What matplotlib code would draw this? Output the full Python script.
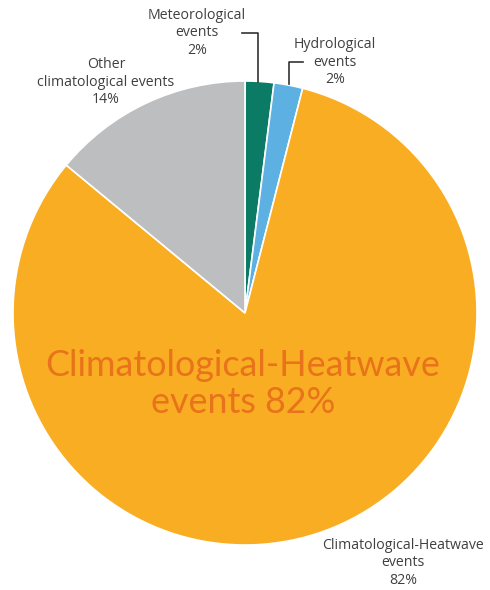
import matplotlib.pyplot as plt
import matplotlib.transforms as mtransforms

plt.rcParams['font.family'] = ['Open Sans', 'DejaVu Sans']

# Share of events by type
labels = ['Meteorological\nevents', 'Hydrological\nevents',
          'Climatological-Heatwave\nevents', 'Other\nclimatological events']
shares = [2, 2, 82, 14]
colors = ['#0b7b66', '#5db0e2', '#f9ad22', '#bdbec0']

W, H = 490, 590
fig = plt.figure(figsize=(W / 100, H / 100), dpi=100)
ax = fig.add_axes([0, 0, 1, 1])
ax.set_aspect('equal')
ax.axis('off')

cx, cy, r = 245, 313, 232
wedges, _ = ax.pie(shares, colors=colors, startangle=90, counterclock=False,
                   center=(cx, -cy), radius=r,
                   wedgeprops=dict(edgecolor='white', linewidth=1.2))
# pie draws in y-up space; flip the wedges into image coordinates
flip = mtransforms.Affine2D().scale(1, -1) + ax.transData
for w in wedges:
    w.set_transform(flip)
ax.set_xlim(0, W)
ax.set_ylim(H, 0)

txt = '#404040'
fs = 10.2
ax.text(197, 33, f'{labels[0]}\n{shares[0]}%', ha='center', va='center',
        fontsize=fs, color=txt, linespacing=1.2)
ax.text(335, 62, f'{labels[1]}\n{shares[1]}%', ha='center', va='center',
        fontsize=fs, color=txt, linespacing=1.2)
ax.text(106, 82, f'{labels[3]}\n{shares[3]}%', ha='center', va='center',
        fontsize=fs, color=txt, linespacing=1.2)
ax.text(403, 563, f'{labels[2]}\n{shares[2]}%', ha='center', va='center',
        fontsize=fs, color=txt, linespacing=1.2)

# leader lines
ax.plot([242, 258, 258], [33, 33, 82], color='#333333', lw=1.2)
ax.plot([303, 289, 289], [62, 62, 84], color='#333333', lw=1.2)

ax.text(243, 384, 'Climatological-Heatwave\nevents 82%', ha='center',
        va='center', fontsize=25.8, color='#e8731a', linespacing=1.12,
        family=['Lato', 'DejaVu Sans'])

fig.savefig('out.png', dpi=100)
